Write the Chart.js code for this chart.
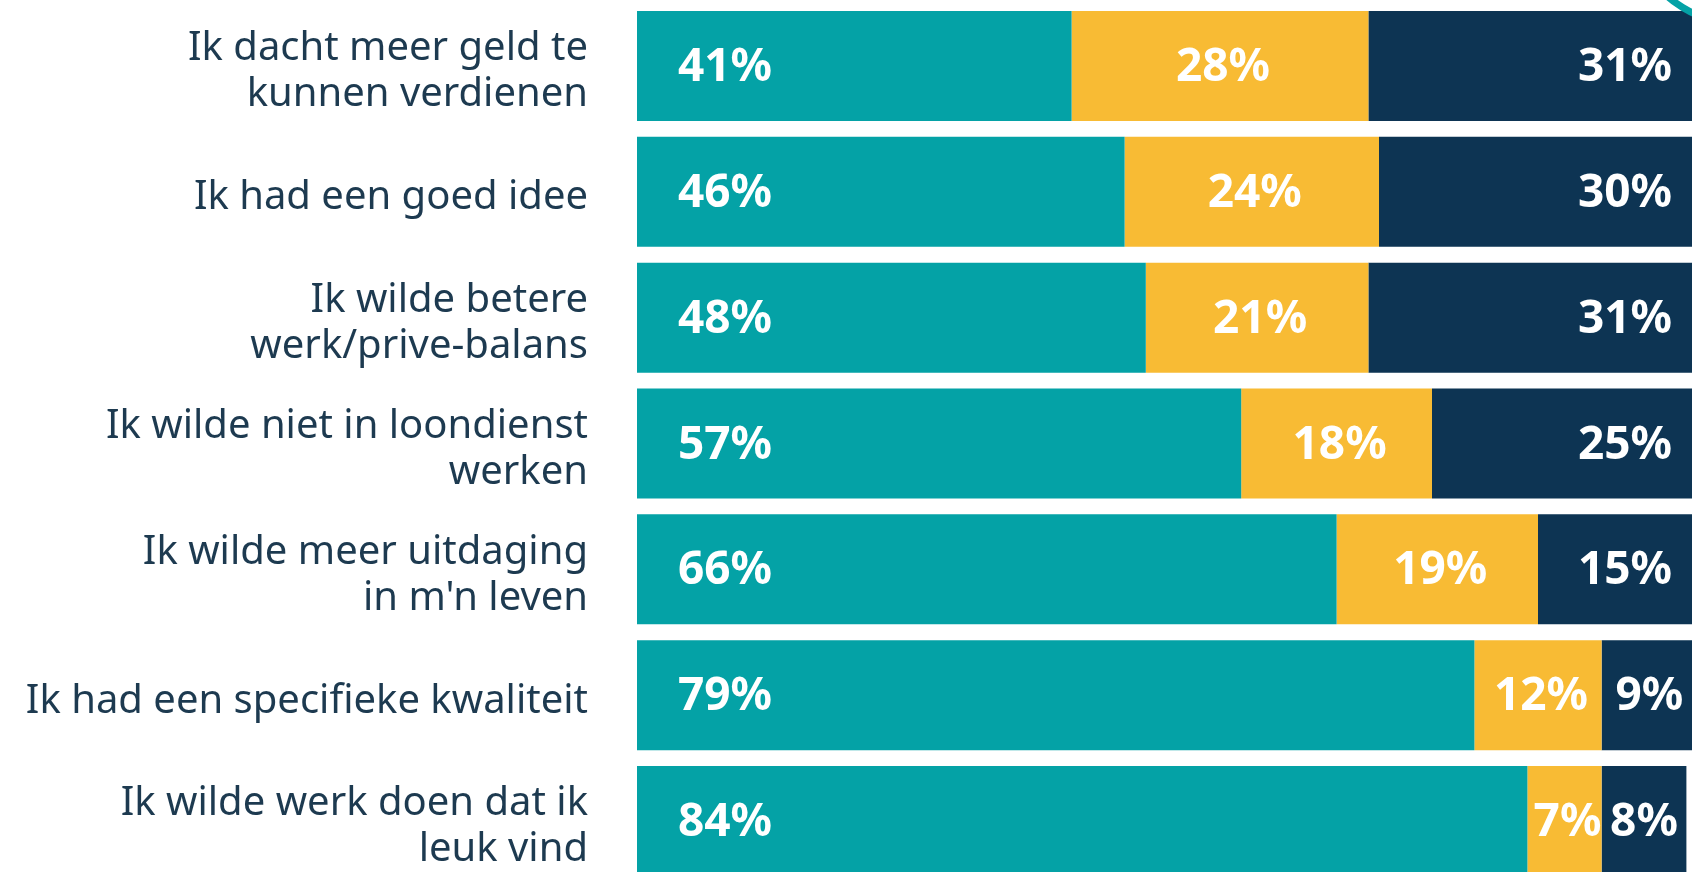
<!DOCTYPE html>
<html>
<head>
<meta charset="utf-8">
<script src="https://cdn.jsdelivr.net/npm/chart.js@4.4.1/dist/chart.umd.min.js"></script>
<style>
  html, body { margin: 0; padding: 0; background: #ffffff; overflow: hidden; }
  #wrap { position: relative; width: 1697px; height: 1060px; }
</style>
</head>
<body>
<div id="wrap"><canvas id="chart"></canvas></div>
<script>
const categories = [
    ['Ik dacht meer geld te', 'kunnen verdienen'],
    'Ik had een goed idee',
    ['Ik wilde betere', 'werk/prive-balans'],
    ['Ik wilde niet in loondienst', 'werken'],
    ['Ik wilde meer uitdaging', "in m'n leven"],
    'Ik had een specifieke kwaliteit',
    ['Ik wilde werk doen dat ik', 'leuk vind']
];
const tealValues = [41, 46, 48, 57, 66, 79, 84];
const yellowValues = [28, 24, 21, 18, 19, 12, 7];
const navyValues = [31, 30, 31, 25, 15, 9, 8];

const TEAL = '#04a2a6';
const YELLOW = '#f8bb34';
const NAVY = '#0d3453';
const TEXT = '#1d3a50';

// white percentage labels inside the bar segments
const segmentLabels = {
    id: 'segmentLabels',
    afterDatasetsDraw(chart) {
        const ctx = chart.ctx;
        ctx.save();
        ctx.fillStyle = '#ffffff';
        ctx.font = 'bold 46px "Noto Sans"';
        ctx.textBaseline = 'middle';
        ctx.textAlign = 'center';
        chart.data.datasets.forEach((ds, di) => {
            const meta = chart.getDatasetMeta(di);
            meta.data.forEach((bar, i) => {
                const text = ds.data[i] + '%';
                const w = ctx.measureText(text).width;
                const left = bar.base;
                const right = bar.x;
                let x;
                if (di === 0) {
                    x = left + 41 + w / 2;
                } else if (di === 1) {
                    x = (left + right) / 2 + 3;
                } else {
                    x = Math.max((left + right) / 2, right - 25 - w / 2);
                }
                ctx.fillText(text, x, bar.y + 2);
            });
        });
        ctx.restore();
    }
};

// teal ring fragment in the top right corner
const cornerRing = {
    id: 'cornerRing',
    afterDraw(chart) {
        const ctx = chart.ctx;
        const shift = chart.canvas.parentNode.offsetTop;
        ctx.save();
        ctx.strokeStyle = TEAL;
        ctx.lineWidth = 7;
        ctx.beginPath();
        ctx.arc(1745, -95 - shift, 120, 0.45 * Math.PI, 0.9 * Math.PI);
        ctx.stroke();
        ctx.restore();
    }
};

const chart = new Chart(document.getElementById('chart'), {
    type: 'bar',
    data: {
        labels: categories,
        datasets: [
            { data: tealValues, backgroundColor: TEAL },
            { data: yellowValues, backgroundColor: YELLOW },
            { data: navyValues, backgroundColor: NAVY }
        ]
    },
    options: {
        indexAxis: 'y',
        responsive: true,
        maintainAspectRatio: false,
        animation: false,
        datasets: {
            bar: { barPercentage: 1, categoryPercentage: 0.874, borderWidth: 0 }
        },
        plugins: {
            legend: { display: false },
            tooltip: { enabled: false }
        },
        scales: {
            x: {
                stacked: true,
                min: 0,
                max: 100,
                display: false
            },
            y: {
                stacked: true,
                grid: { display: false, drawTicks: false },
                border: { display: false },
                afterFit(scale) { scale.width = 637; },
                ticks: {
                    padding: 49,
                    labelOffset: 6,
                    color: TEXT,
                    font: { family: '"Noto Sans"', size: 40, lineHeight: 1.15 }
                }
            }
        }
    },
    plugins: [segmentLabels, cornerRing]
});

// the axis keeps room above/below its labels; shift the canvas so the plot area
// starts just under the top of the page and runs off the bottom like the source
const wrap = document.getElementById('wrap');
const padTop = chart.chartArea.top;
const padBottom = chart.height - chart.chartArea.bottom;
wrap.style.top = (3 - padTop) + 'px';
wrap.style.height = (881 + padTop + padBottom) + 'px';
chart.resize();
</script>
</body>
</html>
